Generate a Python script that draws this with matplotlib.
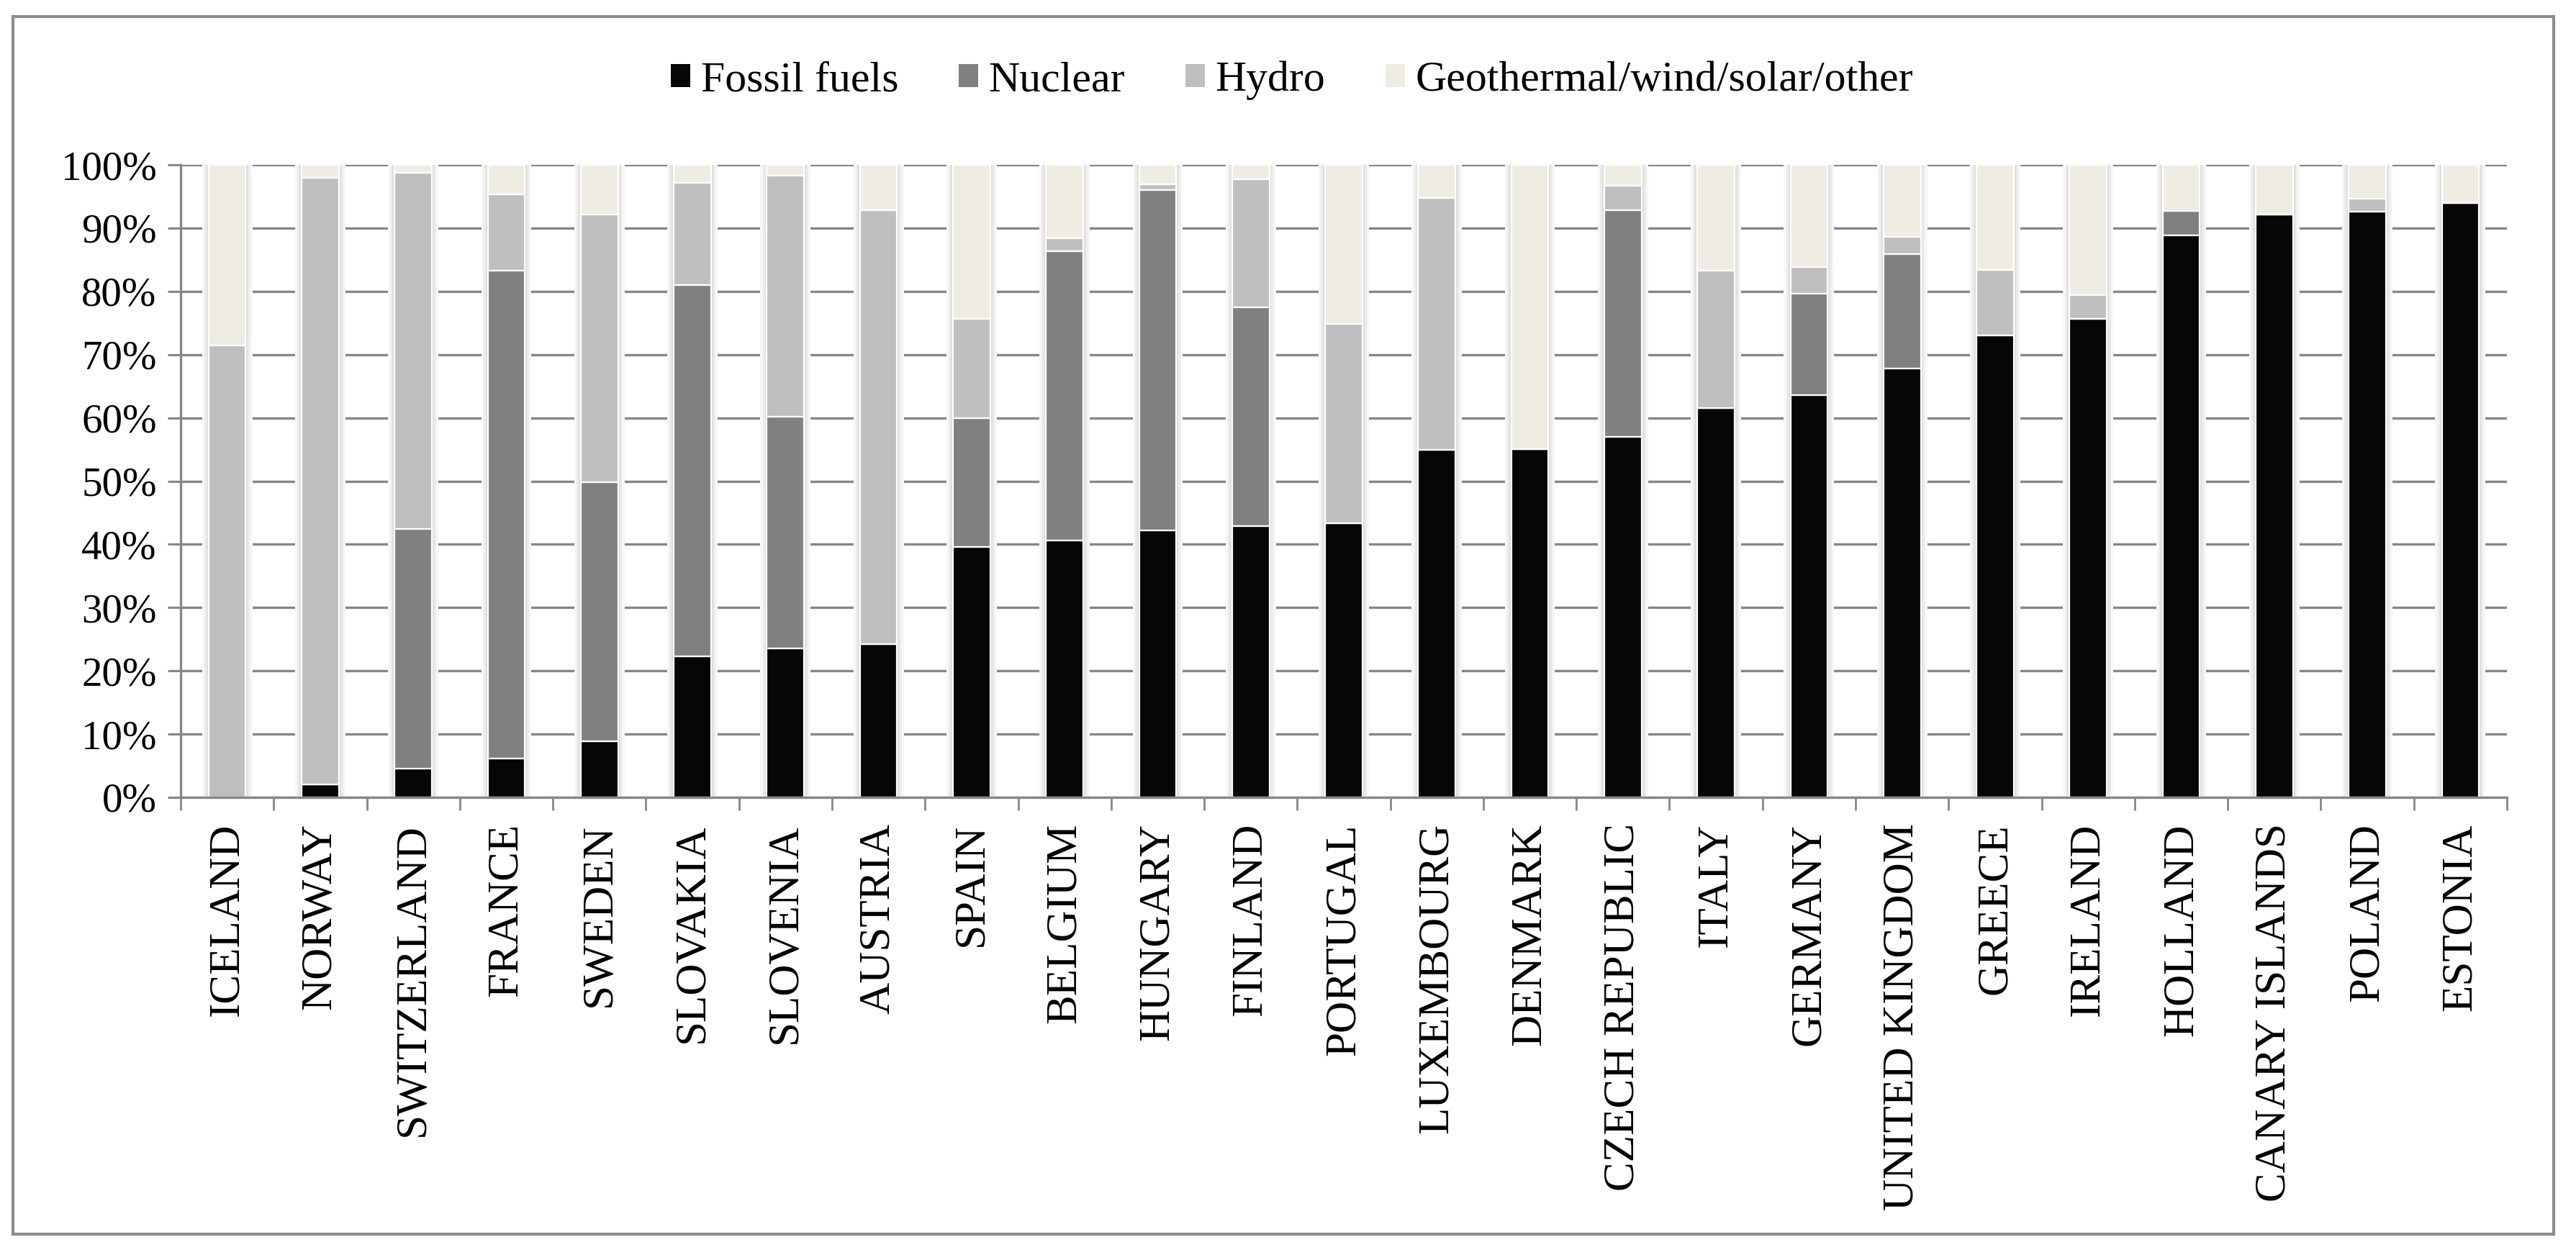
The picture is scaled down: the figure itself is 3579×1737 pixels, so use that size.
import matplotlib
matplotlib.use("Agg")
import matplotlib.pyplot as plt
from matplotlib.patches import Patch, Rectangle
import numpy as np

countries = ["ICELAND", "NORWAY", "SWITZERLAND", "FRANCE", "SWEDEN", "SLOVAKIA",
             "SLOVENIA", "AUSTRIA", "SPAIN", "BELGIUM", "HUNGARY", "FINLAND",
             "PORTUGAL", "LUXEMBOURG", "DENMARK", "CZECH REPUBLIC", "ITALY",
             "GERMANY", "UNITED KINGDOM", "GREECE", "IRELAND", "HOLLAND",
             "CANARY ISLANDS", "POLAND", "ESTONIA"]
fossil = [0.0, 2.0, 4.6, 6.1, 8.9, 22.3, 23.6, 24.2, 39.6, 40.6, 42.2, 42.9, 43.3,
          54.9, 55.1, 57.0, 61.6, 63.6, 67.8, 73.0, 75.6, 88.9, 92.2, 92.6, 94.0]
nuclear = [0.0, 0.0, 37.8, 77.2, 40.9, 58.7, 36.6, 0.0, 20.4, 45.7, 53.8, 34.6, 0.0,
           0.0, 0.0, 35.8, 0.0, 16.0, 18.1, 0.0, 0.0, 3.8, 0.0, 0.0, 0.0]
hydro = [71.4, 96.0, 56.3, 12.0, 42.3, 16.2, 38.1, 68.6, 15.6, 2.1, 0.9, 20.2, 31.6,
         39.9, 0.0, 3.9, 21.7, 4.2, 2.7, 10.4, 3.8, 0.0, 0.0, 2.0, 0.0]
other = [28.6, 2.0, 1.3, 4.7, 7.9, 2.8, 1.7, 7.2, 24.4, 11.6, 3.1, 2.3, 25.1,
         5.2, 44.9, 3.3, 16.7, 16.2, 11.4, 16.6, 20.6, 7.3, 7.8, 5.4, 6.0]
series_names = ["Fossil fuels", "Nuclear", "Hydro", "Geothermal/wind/solar/other"]
series_colors = ["#060606", "#808080", "#bfbfbf", "#efede3"]
yticks = [0, 10, 20, 30, 40, 50, 60, 70, 80, 90, 100]
ytick_labels = [f"{v}%" for v in yticks]

W, H = 3579, 1737
DPI = 100
plt.rcParams['font.family'] = ['Liberation Serif', 'DejaVu Serif']
fig = plt.figure(figsize=(W / DPI, H / DPI), dpi=DPI)
fig.patch.set_facecolor("white")

# outer chart frame
fig.patches.append(Rectangle((18 / W, 1 - 1715 / H), (3548 - 18) / W, (1715 - 23) / H,
                             transform=fig.transFigure, fill=False,
                             edgecolor="#8c8c8c", linewidth=3.0, zorder=0))

left, right, top, bottom = 251, 3483, 229, 1108
ax = fig.add_axes([left / W, 1 - bottom / H, (right - left) / W, (bottom - top) / H])

x = np.arange(len(countries))
grid_col = "#878787"

# soft glow behind bars
for w, c in [(0.54, "#f7f7f7"), (0.49, "#ebebeb"), (0.445, "#dddddd")]:
    ax.bar(x, 100.5, width=w, bottom=-0.3, color=c, edgecolor="none", zorder=1.5)

data = [fossil, nuclear, hydro, other]
bottoms = np.zeros(len(countries))
for vals, col in zip(data, series_colors):
    vals = np.array(vals)
    ax.bar(x, vals, width=0.4, bottom=bottoms, color=col, edgecolor="white",
           linewidth=1.6, zorder=2)
    bottoms += vals

ax.set_xlim(-0.5, len(countries) - 0.5)
ax.set_ylim(0, 100)
ax.set_yticks(yticks)
ax.set_yticklabels(ytick_labels, fontsize=41)
ax.yaxis.grid(True, color=grid_col, linewidth=2.4, zorder=0.5)
ax.set_axisbelow(True)
ax.tick_params(axis="y", length=13, width=2.2, color=grid_col, pad=11, direction="out")

ax.set_xticks(x)
ax.set_xticklabels(countries, rotation=90, fontsize=44)
ax.set_xticks(np.arange(-0.5, len(countries), 1.0), minor=True)
ax.tick_params(axis="x", which="major", length=0, pad=26)
ax.tick_params(axis="x", which="minor", length=13, width=2.0, color=grid_col, direction="out")

for s in ["top", "right"]:
    ax.spines[s].set_visible(False)
for s in ["left", "bottom"]:
    ax.spines[s].set_color(grid_col)
    ax.spines[s].set_linewidth(2.4)
    ax.spines[s].set_zorder(3)

handles = [Patch(facecolor=c, edgecolor="none") for c in series_colors]
fig.legend(handles, series_names, loc="center", ncol=4,
           bbox_to_anchor=(1795 / W, 1 - 112 / H), frameon=False, fontsize=43,
           handlelength=0.45, handleheight=0.45, handletextpad=0.25,
           columnspacing=1.4)

fig.savefig("out.png", dpi=DPI, facecolor="white")
